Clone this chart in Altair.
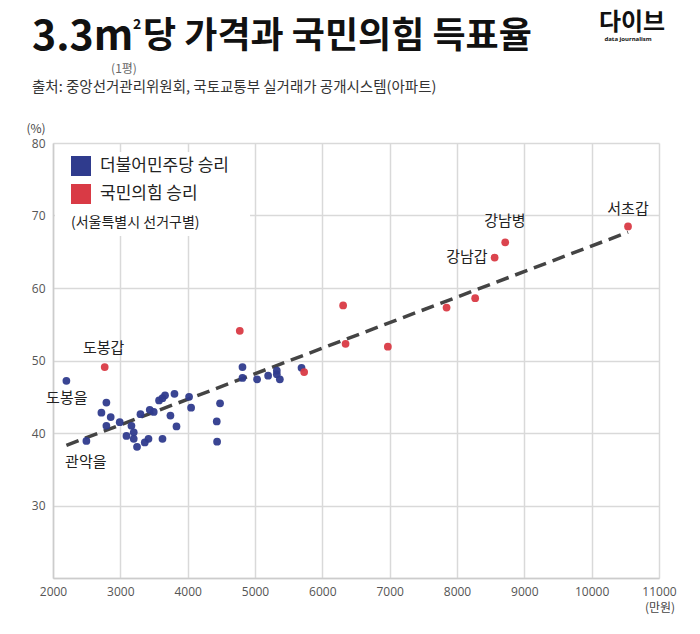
import altair as alt
import pandas as pd

# ---- data ----
blue_x = [2199, 2496, 2719, 2793, 2857, 2793, 2991, 3165, 3199, 3091, 3199, 3248,
          3299, 3437, 3496, 3575, 3626, 3664, 3804, 3744, 3834, 3626, 3418, 3363,
          4021, 4051, 4432, 4437, 4481, 4814, 4814, 5031, 5195, 5324, 5324, 5369, 5691]
blue_y = [47.2, 38.9, 42.8, 44.2, 42.2, 41.0, 41.5, 41.0, 40.1, 39.6, 39.2, 38.1,
          42.6, 43.2, 42.9, 44.5, 44.8, 45.2, 45.4, 42.4, 40.9, 39.2, 39.2, 38.7,
          45.0, 43.5, 41.6, 38.8, 44.1, 49.1, 47.6, 47.4, 47.9, 48.6, 48.1, 47.4, 49.0]
red_x = [2768, 4774, 5730, 6309, 6345, 6973, 7845, 8270, 8716, 8559, 10540]
red_y = [49.1, 54.1, 48.4, 57.6, 52.3, 51.9, 57.3, 58.6, 66.3, 64.2, 68.5]

trend_x = [2199, 10540]
trend_y = [38.3, 67.7]

label_names = ["도봉갑", "도봉을", "관악을", "강남병", "강남갑", "서초갑"]
label_x = [2753, 2205, 2487, 8712, 8147, 10540]
label_y = [51.7, 44.8, 36.0, 69.2, 64.3, 70.9]

parties = ["더불어민주당 승리", "국민의힘 승리"]
party_colors = ["#2f3b8d", "#d93a45"]

x_ticks = [2000, 3000, 4000, 5000, 6000, 7000, 8000, 9000, 10000, 11000]
y_ticks = [20, 30, 40, 50, 60, 70, 80]

KR = "Noto Sans CJK KR"

df = pd.DataFrame({
    "x": blue_x + red_x,
    "y": blue_y + red_y,
    "party": [parties[0]] * len(blue_x) + [parties[1]] * len(red_x),
})
trend_df = pd.DataFrame({"x": trend_x, "y": trend_y})
label_df = pd.DataFrame({"name": label_names, "x": label_x, "y": label_y})

xscale = alt.Scale(domain=[2000, 11000], nice=False, zero=False)
yscale = alt.Scale(domain=[20, 80], nice=False, zero=False)

W, H = 606, 435

legend_box = alt.Chart(pd.DataFrame({"a": [0]})).mark_rect(color="white").encode(
    x=alt.value(2), x2=alt.value(197), y=alt.value(9), y2=alt.value(93)
)

trend = alt.Chart(trend_df).mark_line(
    color="#444444", strokeWidth=3.5, strokeDash=[13, 7]
).encode(
    x=alt.X("x:Q", scale=xscale),
    y=alt.Y("y:Q", scale=yscale),
)

points = alt.Chart(df).mark_circle(size=60, opacity=0.95).encode(
    x=alt.X("x:Q", scale=xscale,
            axis=alt.Axis(values=x_ticks, title=None, format="d", labelFlush=False)),
    y=alt.Y("y:Q", scale=yscale,
            axis=alt.Axis(values=y_ticks, title=None, labelFlush=False,
                          labelExpr="datum.value == 20 ? '' : datum.label")),
    color=alt.Color(
        "party:N",
        scale=alt.Scale(domain=parties, range=party_colors),
        legend=alt.Legend(
            title="(서울특별시 선거구별)",
            orient="none", legendX=18, legendY=13, direction="vertical",
            titleOrient="bottom", titleAnchor="start", titlePadding=12,
            titleFont=KR, titleFontSize=14, titleFontWeight="normal", titleColor="#222222",
            symbolType="square", symbolSize=400, symbolOpacity=1, symbolStrokeWidth=0,
            labelFont=KR, labelFontSize=17, labelColor="#222222", labelOffset=9,
            labelLimit=400, rowPadding=8, padding=0,
        ),
    ),
)

labels = alt.Chart(label_df).mark_text(
    font=KR, fontSize=15, color="#222222", align="center", baseline="middle"
).encode(
    x=alt.X("x:Q", scale=xscale),
    y=alt.Y("y:Q", scale=yscale),
    text="name:N",
)


def txt(t, x, y, size, align="left", baseline="middle", weight="normal", color="#222222", font=KR):
    return alt.Chart(pd.DataFrame({"t": [t]})).mark_text(
        align=align, baseline=baseline, fontSize=size, fontWeight=weight,
        color=color, font=font
    ).encode(text="t:N", x=alt.value(x), y=alt.value(y))


texts = [
    txt("3.3m", -21, -93, 41, baseline="alphabetic", weight="bold", color="#111111"),
    txt("2", 80, -114, 14, baseline="alphabetic", weight="bold", color="#111111"),
    txt("당 가격과 국민의힘 득표율", 90, -95, 36, baseline="alphabetic", weight="bold", color="#111111"),
    txt("(1평)", 71, -74, 12, align="center", color="#666666"),
    txt("출처: 중앙선거관리위원회, 국토교통부 실거래가 공개시스템(아파트)", -21, -55, 14.5, color="#333333"),
    txt("다이브", 579, -120, 24, align="center", weight="bold", color="#111111"),
    txt("data journalism", 575, -104, 6, align="center", weight="bold", color="#111111", font="Noto Sans"),
    txt("(%)", -17, -14, 12, align="center", color="#444444"),
    txt("(만원)", 607, 465, 12, align="center", color="#444444"),
]

chart = alt.layer(legend_box, trend, points, labels, *texts).properties(
    width=W, height=H,
    autosize="none",
    padding={"left": 45, "top": 135, "right": 33, "bottom": 48},
    background="white",
).configure_view(
    stroke="transparent"
).configure_axis(
    gridColor="#d9d9d9", gridWidth=1.5,
    domainColor="#cccccc", domainWidth=1.5,
    ticks=False,
    labelFont="Open Sans", labelFontSize=12, labelColor="#555555", labelPadding=8,
)

chart.save("out.html", embed_options={"renderer": "svg", "actions": False})
